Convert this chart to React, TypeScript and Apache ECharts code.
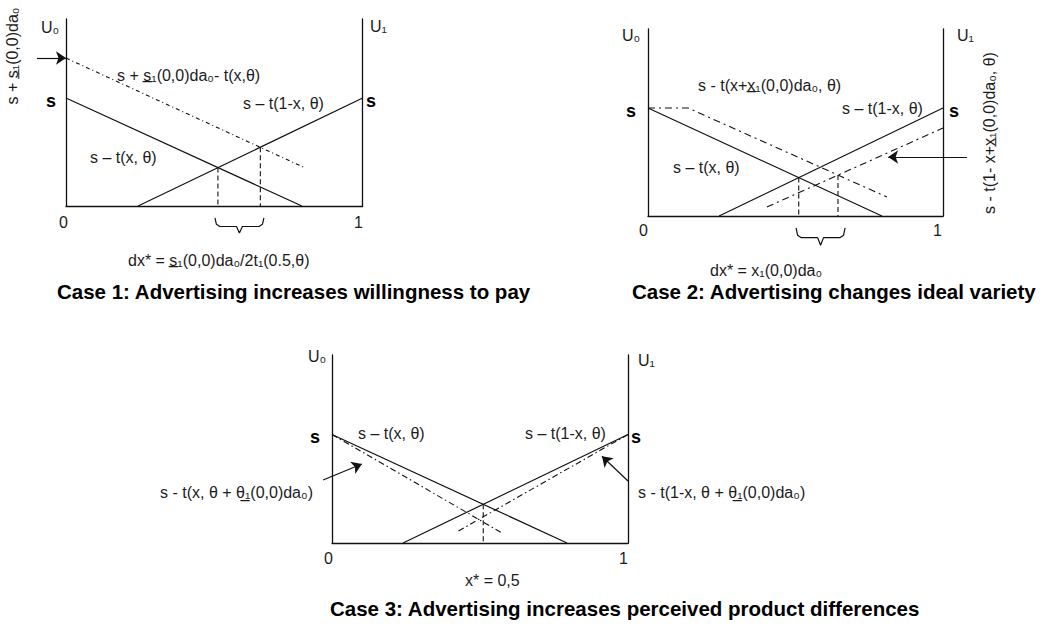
import React, { useEffect, useRef } from 'react';
import * as echarts from 'echarts';

// ---------------- data (x: location in [0,1], y: utility in units of s, s = 1) ----------------
// Case 1: advertising increases willingness to pay
const case1Own = [[0, 1], [0.795, 0]];            // s − t(x, θ)
const case1Rival = [[0.243, 0], [1, 1]];          // s − t(1-x, θ)
const case1Shifted = [[0, 1.37], [0.8, 0.36]];    // s + s1(0,0)da0 − t(x, θ)
const case1Drops = [[0.512, 0.356], [0.655, 0.545]];
const case1Brace = [0.502, 0.667];
const case1Arrow = [[-0.098, 1.37], [0, 1.37]];

// Case 2: advertising changes ideal variety
const case2Own = [[0, 1], [0.793, 0]];
const case2Rival = [[0.241, 0], [1, 1]];
const case2OwnShifted = [[0, 1], [0.136, 1], [0.81, 0.176]];
const case2RivalShifted = [[0.403, 0.083], [1, 0.815]];
const case2Drops = [[0.511, 0.356], [0.644, 0.379]];
const case2Brace = [0.502, 0.668];
const case2Arrow = [[1.081, 0.546], [0.814, 0.546]];

// Case 3: advertising increases perceived product differences
const case3Own = [[0, 1], [0.794, 0]];
const case3Rival = [[0.24, 0], [1, 1]];
const case3OwnSteeper = [[0, 1], [0.57, 0.1]];
const case3RivalSteeper = [[1, 1], [0.42, 0.1]];
const case3Drops = [[0.511, 0.357]];
const case3ArrowLeft = [[-0.03, 0.58], [0.101, 0.728]];
const case3ArrowRight = [[1.0, 0.571], [0.912, 0.8]];

const tickLabels = ['0', '1'];
const titles = [
  'Case 1: Advertising increases willingness to pay',
  'Case 2: Advertising changes ideal variety',
  'Case 3: Advertising increases perceived product differences',
];

// ---------------- layout ----------------
const grids = [
  { left: 66, top: 19, width: 296.7, height: 187 },
  { left: 648, top: 29, width: 295, height: 187 },
  { left: 332, top: 355, width: 296, height: 188 },
];
const sPixels = [108, 108, 108.5];
const FONT = '"Liberation Sans", Arial, Helvetica, sans-serif';
const INK = '#111';

const solid = (gi: number, data: number[][]) => ({
  type: 'line', xAxisIndex: gi, yAxisIndex: gi * 2, data, symbol: 'none', showSymbol: false,
  clip: false, silent: true, lineStyle: { color: INK, width: 1.2, type: 'solid' },
});
const dashed = (gi: number, data: number[][], pattern: number[]) => ({
  type: 'line', xAxisIndex: gi, yAxisIndex: gi * 2, data, symbol: 'none', showSymbol: false,
  clip: false, silent: true, lineStyle: { color: INK, width: 1.1, type: pattern },
});
const drops = (gi: number, pts: number[][]) =>
  pts.map((p) => dashed(gi, [[p[0], p[1]], [p[0], 0]], [5, 3]));
const brace = (gi: number, span: number[], top: number, mid: number, tip: number) => {
  const [x0, x1] = span;
  const w = x1 - x0;
  const c = (x0 + x1) / 2;
  const data = [
    [x0, top], [x0 + w * 0.03, mid + (top - mid) * 0.25], [x0 + w * 0.1, mid],
    [c - w * 0.06, mid], [c, tip], [c + w * 0.06, mid],
    [x1 - w * 0.1, mid], [x1 - w * 0.03, mid + (top - mid) * 0.25], [x1, top],
  ];
  return solid(gi, data);
};
const arrow = (gi: number, pts: number[][]) => ({
  type: 'lines', coordinateSystem: 'cartesian2d', xAxisIndex: gi, yAxisIndex: gi * 2,
  clip: false, silent: true, symbol: ['none', 'arrow'], symbolSize: 10,
  lineStyle: { color: INK, width: 1.2, opacity: 1 },
  itemStyle: { color: INK },
  data: [{ coords: pts }],
});

type TOpts = { size?: number; weight?: string; align?: string; rot?: number; color?: string };
const txt = (x: number, y: number, text: string, o: TOpts = {}) => ({
  type: 'text', x, y, silent: true, rotation: o.rot || 0,
  style: {
    text,
    fill: o.color || '#1c1c1c',
    font: `${o.weight || 'normal'} ${o.size || 16}px ${FONT}`,
    textAlign: o.align || 'left', align: o.align || 'left',
    textVerticalAlign: 'middle', verticalAlign: 'middle',
  },
});

export default function App() {
  const ref = useRef<HTMLDivElement>(null);
  useEffect(() => {
    if (!ref.current) return;
    const chart = echarts.init(ref.current, undefined, { renderer: 'svg' });

    const axisLine = { show: true, onZero: false, lineStyle: { color: INK, width: 1.3 } };
    const xAxis = grids.map((_, i) => ({
      type: 'value', gridIndex: i, min: 0, max: 1, interval: 1,
      axisLine, axisTick: { show: false }, axisLabel: { show: false }, splitLine: { show: false },
    }));
    const yAxis = grids.flatMap((g, i) => ['left', 'right'].map((pos) => ({
      type: 'value', gridIndex: i, min: 0, max: g.height / sPixels[i], position: pos,
      axisLine, axisTick: { show: false }, axisLabel: { show: false }, splitLine: { show: false },
    })));

    const series: any[] = [
      // case 1
      solid(0, case1Own), solid(0, case1Rival), dashed(0, case1Shifted, [4, 3, 1, 3]),
      ...drops(0, case1Drops), brace(0, case1Brace, -0.11, -0.19, -0.25), arrow(0, case1Arrow),
      // case 2
      solid(1, case2Own), solid(1, case2Rival),
      dashed(1, case2OwnShifted, [7, 4, 2, 4]), dashed(1, case2RivalShifted, [7, 4, 2, 4]),
      ...drops(1, case2Drops), brace(1, case2Brace, -0.11, -0.2, -0.27), arrow(1, case2Arrow),
      // case 3
      solid(2, case3Own), solid(2, case3Rival),
      dashed(2, case3OwnSteeper, [6, 3, 1.5, 3]), dashed(2, case3RivalSteeper, [6, 3, 1.5, 3]),
      ...drops(2, case3Drops), arrow(2, case3ArrowLeft), arrow(2, case3ArrowRight),
    ];

    const S = (x: number, y: number) => txt(x, y, 's', { weight: 'bold', size: 18, color: '#000' });
    const title = (x: number, y: number, t: string) => txt(x, y, t, { weight: 'bold', size: 20.5, color: '#000' });

    const elements = [
      // case 1
      txt(41, 27, 'U₀'), txt(370, 26, 'U₁'),
      txt(117, 75, 's + s\u0332₁(0,0)da₀- t(x,θ)'),
      txt(243, 103, 's – t(1-x, θ)'),
      txt(90, 157, 's – t(x, θ)'),
      S(46, 101), S(366, 101),
      txt(59, 222, tickLabels[0]), txt(354, 222, tickLabels[1]),
      txt(128, 260, 'dx* = s\u0332₁(0,0)da₀/2t₁(0.5,θ)'),
      txt(12, 56, 's + s\u0332₁(0,0)da₀', { align: 'center', rot: Math.PI / 2 }),
      title(57, 291, titles[0]),
      // case 2
      txt(622, 35, 'U₀'), txt(957, 35, 'U₁'),
      txt(698, 85, 's - t(x+x\u0332₁(0,0)da₀, θ)'),
      txt(842, 108, 's – t(1-x, θ)'),
      txt(673, 167, 's – t(x, θ)'),
      S(626, 111), S(949, 111),
      txt(639, 230, tickLabels[0]), txt(933, 230, tickLabels[1]),
      txt(710, 270, 'dx* = x₁(0,0)da₀'),
      txt(989, 133, 's - t(1- x+x\u0332₁(0,0)da₀, θ)', { align: 'center', rot: Math.PI / 2 }),
      title(632, 291, titles[1]),
      // case 3
      txt(308, 356, 'U₀'), txt(638, 360, 'U₁'),
      txt(358, 433, 's – t(x, θ)'),
      S(310, 437),
      txt(160, 492, 's - t(x, θ + θ\u0332₁(0,0)da₀)'),
      txt(525, 433, 's – t(1-x, θ)'),
      S(631, 437),
      txt(638, 492, 's - t(1-x, θ + θ\u0332₁(0,0)da₀)'),
      txt(324, 558, tickLabels[0]), txt(619, 558, tickLabels[1]),
      txt(465, 580, 'x* = 0,5'),
      title(330, 608, titles[2]),
    ];

    chart.setOption({
      animation: false,
      backgroundColor: '#fff',
      grid: grids.map((g) => ({ ...g, containLabel: false })),
      xAxis,
      yAxis,
      series,
      graphic: { elements },
    });
    return () => chart.dispose();
  }, []);
  return (
    <div
      ref={ref}
      style={{ position: 'fixed', left: 0, top: 0, width: 1055, height: 624, background: '#fff' }}
    />
  );
}
